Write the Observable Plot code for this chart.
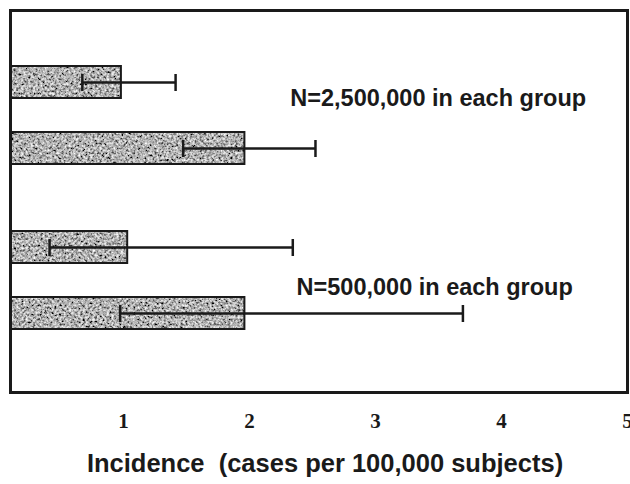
<!DOCTYPE html>
<html>
<head>
<meta charset="utf-8">
<script src="https://cdn.jsdelivr.net/npm/d3@7"></script>
<script src="https://cdn.jsdelivr.net/npm/@observablehq/plot@0.6"></script>
<style>
  html, body { margin: 0; padding: 0; background: #fff; overflow: hidden; }
  #chart svg { display: block; }
</style>
</head>
<body>
<div id="chart"></div>
<script>
// ---- data ----
const rows = ["N2.5M-a", "N2.5M-b", "N500k-a", "N500k-b"];
const incidence = [1.0, 1.98, 1.05, 1.98];
const ciLow = [0.69, 1.49, 0.43, 0.99];
const ciHigh = [1.43, 2.54, 2.36, 3.71];
const groupLabels = ["N=2,500,000 in each group", "N=500,000 in each group"];
const groupLabelX = [2.34, 2.39];
const xTicks = [1, 2, 3, 4, 5];
const xTickLabels = ["1", "2", "3", "4", "5"];
const xTitle = "Incidence\u00a0 (cases per 100,000 subjects)";

// layout rows (spacers keep the gaps between bars)
const yDomain = [rows[0], "s1", rows[1], "s2", "s3", rows[2], "s4", rows[3]];
const labelRows = ["s1", "s4"];
const labelDy = [-17, 7];

const table = rows.map((r, i) => ({row: r, v: incidence[i], lo: ciLow[i], hi: ciHigh[i]}));
const notes = groupLabels.map((t, i) => ({text: t, x: groupLabelX[i], row: labelRows[i]}));

const ink = "#1a1a1a";

const plot = Plot.plot({
  width: 630,
  height: 484,
  marginTop: 10,
  marginLeft: 10,
  marginRight: 3,
  marginBottom: 92,
  style: {background: "#fff", overflow: "visible"},
  x: {domain: [0.12, 5.016], axis: null},
  y: {domain: yDomain, axis: null, paddingInner: 0.045, paddingOuter: 0, insetTop: 54, insetBottom: 61},
  marks: [
    Plot.barX(table, {x1: 0, x2: "v", y: "row", fill: "url(#speckle)", stroke: ink, strokeWidth: 2, clip: true}),
    Plot.ruleY(table, {y: "row", x1: "lo", x2: "hi", stroke: ink, strokeWidth: 2.5}),
    Plot.tickX(table, {x: "lo", y: "row", stroke: ink, strokeWidth: 2.5, insetTop: 8, insetBottom: 7}),
    Plot.tickX(table, {x: "hi", y: "row", stroke: ink, strokeWidth: 2.5, insetTop: 8, insetBottom: 7}),
    Plot.text(notes, {x: "x", y: "row", text: "text", textAnchor: "start",
      fontFamily: "Liberation Sans, Arial, sans-serif", fontWeight: "bold", fontSize: 23.5, fill: ink}),
    Plot.text(xTicks, {x: d => d, text: (d, i) => xTickLabels[i], frameAnchor: "bottom", dy: 35, dx: 2,
      fontFamily: "Liberation Serif, Times New Roman, serif", fontWeight: "bold", fontSize: 21, fill: ink}),
    Plot.text([xTitle], {frameAnchor: "bottom", dy: 79, dx: 6,
      fontFamily: "Liberation Sans, Arial, sans-serif", fontWeight: "bold", fontSize: 25.5, fill: ink}),
    Plot.frame({stroke: ink, strokeWidth: 3})
  ]
});

// texture for the bars
(function () {
  const svgNS = "http://www.w3.org/2000/svg";
  const defs = document.createElementNS(svgNS, "defs");
  defs.innerHTML = `
    <filter id="grainF" x="0" y="0" width="300" height="300" filterUnits="userSpaceOnUse">
      <feTurbulence type="fractalNoise" baseFrequency="0.42" numOctaves="3" seed="7" result="n"/>
      <feColorMatrix in="n" type="matrix" values="1.6 0 0 0 -0.36  1.6 0 0 0 -0.36  1.6 0 0 0 -0.36  0 0 0 0 1"/>
    </filter>
    <pattern id="speckle" patternUnits="userSpaceOnUse" width="300" height="300">
      <rect width="300" height="300" fill="#808080" filter="url(#grainF)"/>
    </pattern>`;
  plot.insertBefore(defs, plot.firstChild);
})();

document.getElementById("chart").appendChild(plot);

// per-label vertical offsets for the group annotations
plot.querySelectorAll("text").forEach(t => {
  const i = groupLabels.indexOf(t.textContent);
  if (i >= 0) t.setAttribute("dy", String(labelDy[i]));
});
</script>
</body>
</html>
